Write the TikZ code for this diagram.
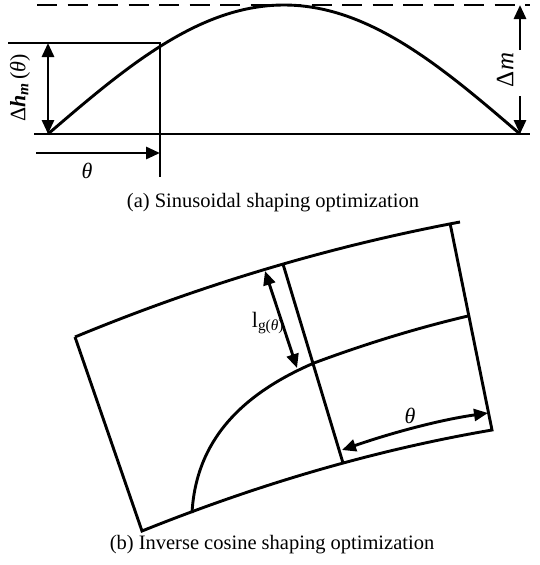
\documentclass[tikz,border=0pt]{standalone}
\usepackage{fontspec}
\setmainfont{Liberation Serif}
\usetikzlibrary{arrows.meta}
\begin{document}
\begin{tikzpicture}[x=1pt,y=-1pt,
  ln/.style={line width=2.9pt},
  mytip/.tip={Triangle[length=14pt,width=12pt]},
  dbl/.style={ln,mytip-mytip},
  sgl/.style={ln,-mytip},
  lbl/.style={font=\fontsize{22}{26}\selectfont, inner sep=0pt},
  captxt/.style={font=\fontsize{20.5}{24}\selectfont, inner sep=0pt}]
\useasboundingbox (0,0) rectangle (540,565);
% ---------------- (a) ----------------
\coordinate (dl) at (37,5);   \coordinate (dr) at (530,5);
\coordinate (bl) at (34,134); \coordinate (br) at (530,134);
\coordinate (hl) at (8,43);   \coordinate (hr) at (160,43);
\coordinate (vb) at (160,177);
\coordinate (ha) at (48,43);  \coordinate (hb) at (48,134);
\coordinate (ta) at (36,153); \coordinate (tb) at (160,153);
\coordinate (ma1) at (520,50); \coordinate (ma2) at (520,5);
\coordinate (mb1) at (520,96); \coordinate (mb2) at (520,134);
\draw[ln, dash pattern=on 20pt off 10.5pt] (dl) -- (dr);
\draw[ln] (bl) -- (br);
\draw[ln] (hl) -- (hr) -- (vb);
\draw[ln] plot[domain=48:520, samples=120] (\x, {134-129*sin(0.381356*(\x-48))});
\draw[dbl] (ha) -- (hb);
\draw[sgl] (ta) -- (tb);
\draw[sgl] (ma1) -- (ma2);
\draw[sgl] (mb1) -- (mb2);
\node[lbl, rotate=90] (dh) at (20,88) {Δ\textbf{\textit{h}}\textsubscript{\textbf{\textit{m}}}\,(\textit{θ})};
\node[lbl] (tha) at (87,171) {\textit{θ}};
\node[lbl, font=\fontsize{25}{28}\selectfont, rotate=90] (dm) at (505,70) {Δ\textit{m}};
\node[captxt] (capa) at (273,203) {(a) Sinusoidal shaping optimization};
% ---------------- (b) ----------------
\coordinate (TL) at (75,337);
\coordinate (BL) at (142,531);
\coordinate (TR) at (460,222);
\coordinate (RT) at (450,223);
\coordinate (BR) at (492,430);
\coordinate (MT) at (283,264);
\coordinate (MB) at (343,463);
\coordinate (CS) at (192,513);
\coordinate (CM) at (314,363);
\coordinate (CE) at (468,316);
\coordinate (LA) at (265,271);
\coordinate (LB) at (297,368);
\coordinate (QA) at (342,450);
\coordinate (QB) at (488,413);
\draw[ln] (TL) .. controls (203,284) and (332,246) .. (TR);
\draw[ln] (TL) -- (BL) .. controls (259,484) and (375,450) .. (BR) -- (RT);
\draw[ln] (MT) -- (MB);
\draw[ln] (CS) .. controls (196,440) and (242,394) .. (CM)
               .. controls (365,344) and (417,328) .. (CE);
\draw[dbl] (LA) -- (LB);
\draw[dbl] (QA) .. controls (391,433) and (439,420) .. (QB);
\node[lbl] (lg) at (268,323) {l\textsubscript{g(\textit{θ})}};
\node[lbl] (thb) at (410,416) {\textit{θ}};
\node[captxt] (capb) at (272,545) {(b) Inverse cosine shaping optimization};
\end{tikzpicture}
\end{document}
